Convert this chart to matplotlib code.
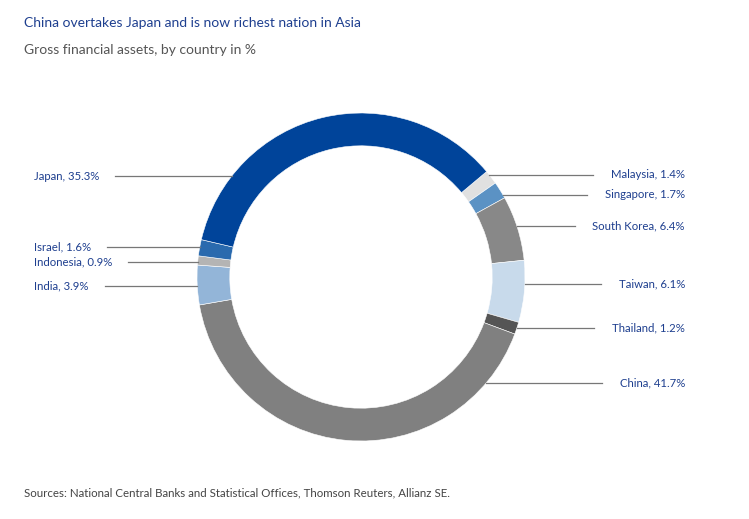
import numpy as np
import matplotlib.pyplot as plt

# data, clockwise from the top-right
countries = ['Malaysia', 'Singapore', 'South Korea', 'Taiwan', 'Thailand',
             'China', 'India', 'Indonesia', 'Israel', 'Japan']
shares = [1.4, 1.7, 6.4, 6.1, 1.2, 41.7, 3.9, 0.9, 1.6, 35.3]
colors = ['#e0e0e0', '#5b92c4', '#888888', '#c8daeb', '#555555',
          '#808080', '#93b5d8', '#b4b4b4', '#2a6aae', '#00449a']

title = 'China overtakes Japan and is now richest nation in Asia'
subtitle = 'Gross financial assets, by country in %'
source = 'Sources: National Central Banks and Statistical Offices, Thomson Reuters, Allianz SE.'

# label layout in pixels: y of the leader line, which side
label_y = {'Malaysia': 175, 'Singapore': 195, 'South Korea': 226, 'Taiwan': 284,
           'Thailand': 328, 'China': 383, 'India': 286, 'Indonesia': 262,
           'Israel': 247, 'Japan': 176}
left_side = ['Japan', 'Israel', 'Indonesia', 'India']

W, H = 749, 519
cx, cy, R = 361, 277, 164
blue = '#1e3f8f'

plt.rcParams['font.family'] = ['Lato', 'DejaVu Sans']

fig = plt.figure(figsize=(W / 100, H / 100), dpi=100)
ax = fig.add_axes([0, 0, 1, 1])

ax.pie(shares, colors=colors, startangle=40, counterclock=False,
       center=(cx, H - cy), radius=R,
       wedgeprops=dict(width=R * 0.2, edgecolor='white', linewidth=0.4))
ax.set_xlim(0, W)
ax.set_ylim(0, H)
ax.set_aspect('equal')
ax.axis('off')

texts = {}
for name, val in zip(countries, shares):
    y = label_y[name]
    txt = f'{name}, {val}%'
    if name in left_side:
        texts[name] = ax.text(34, H - y, txt, ha='left', va='center', fontsize=8.2, color=blue)
    else:
        texts[name] = ax.text(685, H - y, txt, ha='right', va='center', fontsize=8.2, color=blue)

ax.text(24, H - 23, title, ha='left', va='center', fontsize=10, color=blue)
ax.text(24, H - 50, subtitle, ha='left', va='center', fontsize=10, color='#555555')
ax.text(24, H - 493, source, ha='left', va='center', fontsize=8.3, color='#444444')

# leader lines from text to ring
fig.canvas.draw()
r = fig.canvas.get_renderer()
for name, t in texts.items():
    y = label_y[name]
    dx = np.sqrt(max(R ** 2 - (y - cy) ** 2, 0))
    bb = t.get_window_extent(r)
    if name in left_side:
        ax.plot([bb.x1 + 16, cx - dx], [H - y, H - y], color='#777777', lw=0.9)
    else:
        ax.plot([cx + dx, bb.x0 - 18], [H - y, H - y], color='#777777', lw=0.9)

fig.savefig('out.png', dpi=100)
